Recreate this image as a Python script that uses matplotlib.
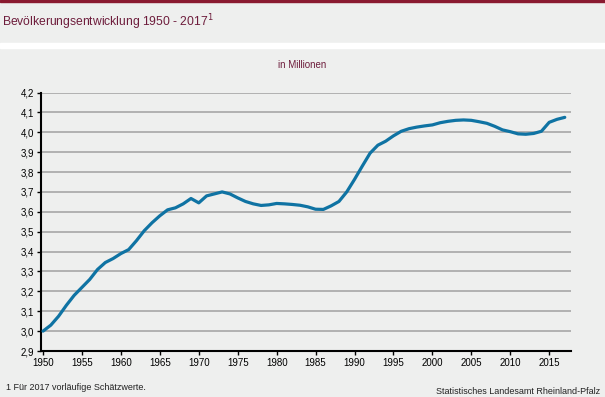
import numpy as np
import matplotlib.pyplot as plt

# Bevölkerung Rheinland-Pfalz, Mio.
years = list(range(1950, 2018))
population = [
    3.000, 3.030, 3.075, 3.130, 3.180, 3.220, 3.260, 3.310, 3.345, 3.365,
    3.390, 3.410, 3.455, 3.505, 3.545, 3.580, 3.610, 3.620, 3.640, 3.667,
    3.645, 3.680, 3.690, 3.700, 3.690, 3.670, 3.652, 3.640, 3.632, 3.635,
    3.642, 3.640, 3.637, 3.633, 3.625, 3.613, 3.612, 3.630, 3.652, 3.700,
    3.763, 3.830, 3.895, 3.935, 3.955, 3.982, 4.005, 4.018, 4.026, 4.032,
    4.037, 4.048, 4.055, 4.060, 4.062, 4.060, 4.053, 4.045, 4.030, 4.012,
    4.003, 3.992, 3.990, 3.994, 4.005, 4.050, 4.065, 4.075,
]
x_ticks = list(range(1950, 2016, 5))
y_ticks = [2.9, 3.0, 3.1, 3.2, 3.3, 3.4, 3.5, 3.6, 3.7, 3.8, 3.9, 4.0, 4.1, 4.2]

bg = '#eeefee'
red = '#8a1a30'
title_col = '#6e1d3c'
line_col = '#0f73a3'
W, H = 605, 397

plt.rcParams['font.family'] = ['Liberation Sans', 'DejaVu Sans']

fig = plt.figure(figsize=(W / 100, H / 100), dpi=100, facecolor=bg)

# Kopfbereich: roter Streifen, weisse Trennlinie
fig.patches.append(plt.Rectangle((0, 1 - 2 / H), 1, 2 / H, transform=fig.transFigure,
                                 color=red, zorder=0))
fig.patches.append(plt.Rectangle((0, 1 - 48 / H), 1, 5 / H, transform=fig.transFigure,
                                 color='white', zorder=0))
fig.text(2 / W, 1 - 22 / H, 'Bevölkerungsentwicklung 1950 - 2017$^{1}$', fontsize=8.7,
         color=title_col, va='center', ha='left')
fig.text(302 / W, 1 - 65 / H, 'in Millionen', fontsize=7, color=title_col,
         va='center', ha='center')

ax = fig.add_axes([41 / W, (H - 351) / H, 530 / W, 258.5 / H])
ax.set_facecolor(bg)
ax.plot(years, population, color=line_col, lw=2.3, solid_capstyle='round', zorder=3)

ax.set_xlim(1949.74, 2017.8)
ax.set_ylim(2.9, 4.2)
ax.set_xticks(x_ticks)
ax.set_yticks(y_ticks)
ax.set_yticklabels([f'{v:.1f}'.replace('.', ',') for v in y_ticks])
ax.grid(axis='y', color='#a6a6a6', lw=1.2)
ax.set_axisbelow(True)
ax.tick_params(labelsize=7, length=3, width=1, colors='black', pad=2)

for s in ['top', 'right']:
    ax.spines[s].set_visible(False)
for s in ['left', 'bottom']:
    ax.spines[s].set_linewidth(1.5)
    ax.spines[s].set_color('black')

fig.text(6 / W, 1 - 387 / H, '1 Für 2017 vorläufige Schätzwerte.', fontsize=6.5,
         color='#222222', va='center', ha='left')
fig.text(600 / W, 1 - 391 / H, 'Statistisches Landesamt Rheinland-Pfalz', fontsize=6.5,
         color='#222222', va='center', ha='right')

fig.savefig('out.png', dpi=100, facecolor=bg)
